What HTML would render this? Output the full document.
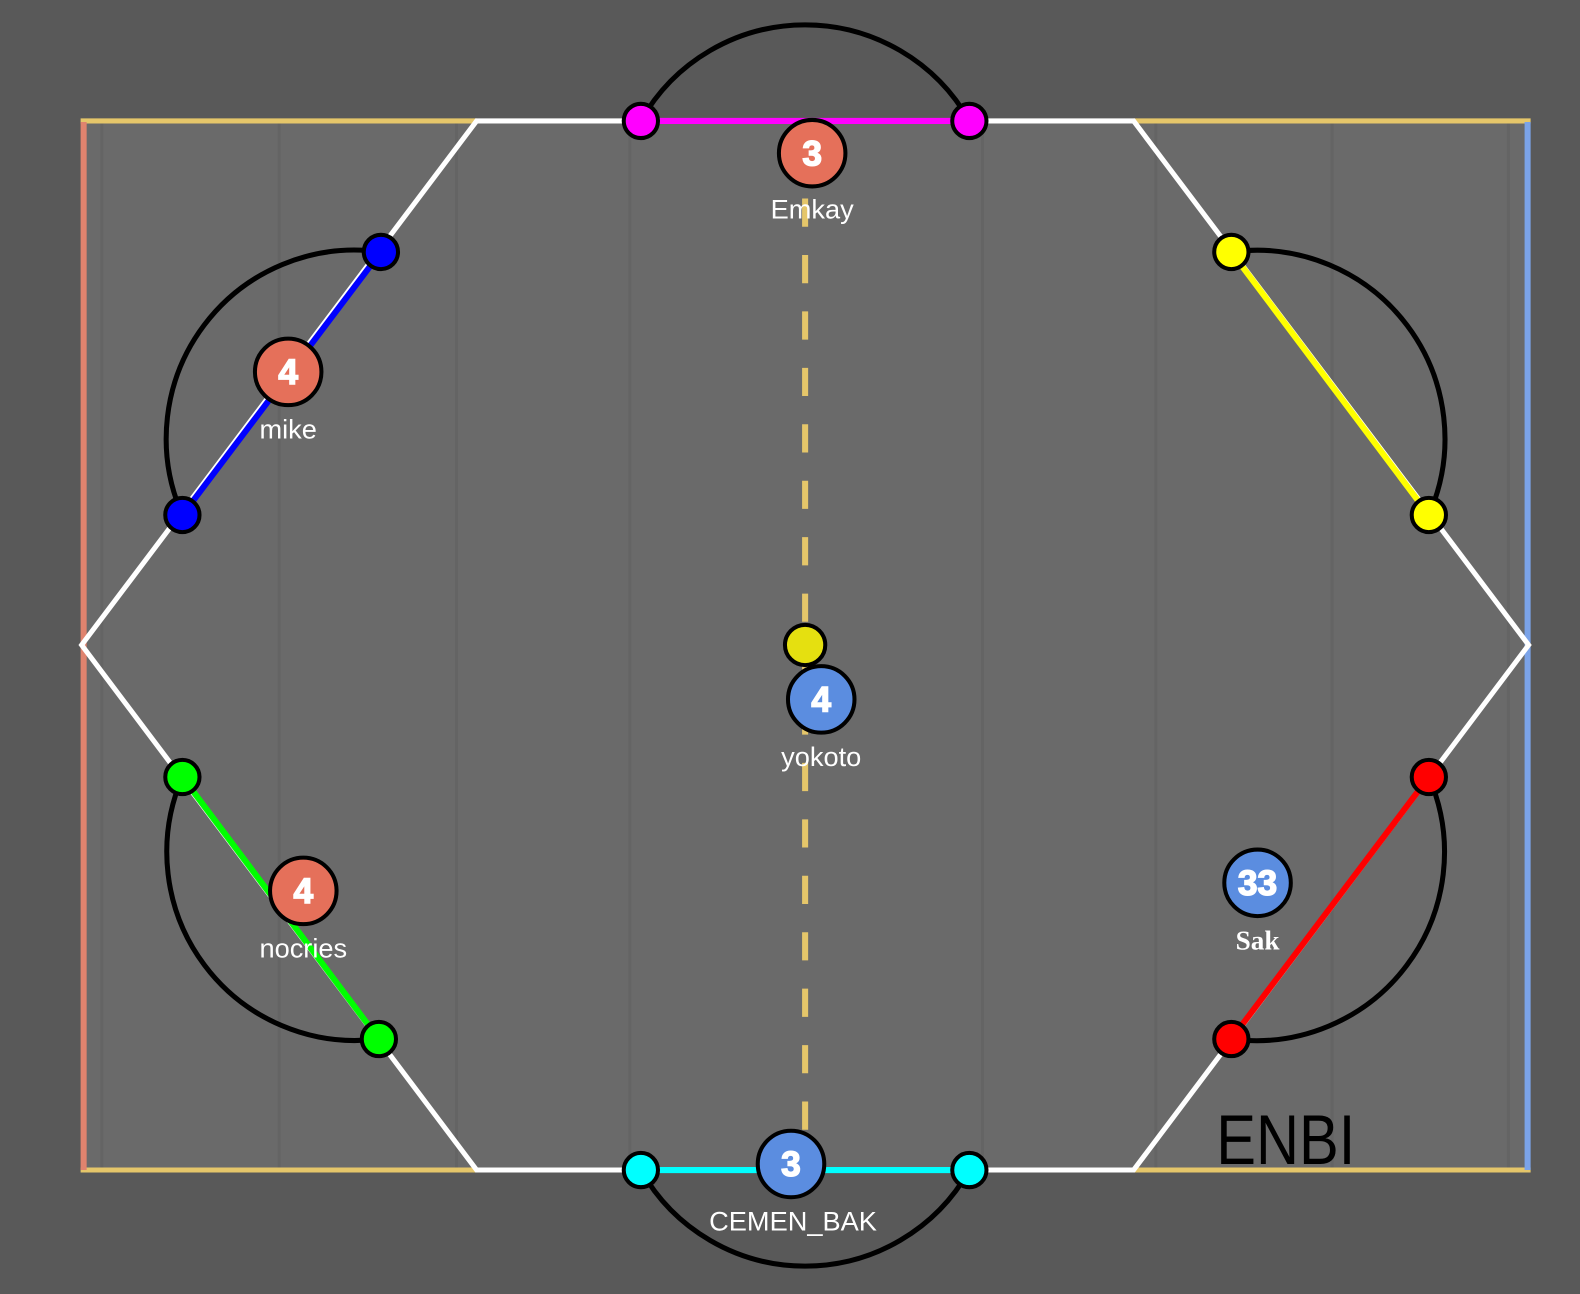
<!DOCTYPE html>
<html><head><meta charset="utf-8"><style>
html,body{margin:0;padding:0;background:#595959;}
svg{display:block;}
</style></head><body>
<svg width="1580" height="1294" viewBox="0 0 1568 1284" preserveAspectRatio="none" xmlns="http://www.w3.org/2000/svg">
<rect width="1568" height="1284" fill="#595959"/>
<rect x="82" y="120" width="1435" height="1041" fill="#6a6a6a"/>
<g stroke="#646464" stroke-width="3">
<line x1="101" y1="122" x2="101" y2="1159"/>
<line x1="277" y1="122" x2="277" y2="1159"/>
<line x1="453" y1="122" x2="453" y2="1159"/>
<line x1="625" y1="122" x2="625" y2="1159"/>
<line x1="975" y1="122" x2="975" y2="1159"/>
<line x1="1147" y1="122" x2="1147" y2="1159"/>
<line x1="1322" y1="122" x2="1322" y2="1159"/>
<line x1="1497" y1="122" x2="1497" y2="1159"/>
</g>
<g stroke="#e5c66a" stroke-width="5">
<line x1="80" y1="120" x2="473" y2="120"/>
<line x1="1125" y1="120" x2="1519" y2="120"/>
<line x1="80" y1="1161" x2="473" y2="1161"/>
<line x1="1125" y1="1161" x2="1519" y2="1161"/>
</g>
<line x1="83" y1="121" x2="83" y2="1161" stroke="#e0836e" stroke-width="6"/>
<line x1="1516" y1="121" x2="1516" y2="1161" stroke="#7ba3e8" stroke-width="6"/>
<line x1="799" y1="185" x2="799" y2="1161" stroke="#e5c66a" stroke-width="6" stroke-dasharray="28 28" stroke-dashoffset="-12"/>
<g stroke="#ffffff" stroke-width="5" fill="none">
<polyline points="636,120 473,120 81,640 473,1161 636,1161"/>
<polyline points="962,120 1125,120 1517,640 1125,1161 962,1161"/>
</g>
<g stroke-width="6" fill="none">
<line x1="636" y1="120" x2="962" y2="120" stroke="#ff00ff"/>
<line x1="636" y1="1161" x2="962" y2="1161" stroke="#00ffff"/>
<line x1="378" y1="250" x2="181" y2="511" stroke="#0000ff"/>
<line x1="181" y1="771" x2="376" y2="1031" stroke="#00ff00"/>
<line x1="1222" y1="250" x2="1418" y2="511" stroke="#ffff00"/>
<line x1="1418" y1="771" x2="1222" y2="1031" stroke="#ff0000"/>
</g>
<g stroke="#000" stroke-width="5" fill="none">
<path d="M636,120 A187,187 0 0 1 962,120"/>
<path d="M962,1161 A187,187 0 0 1 636,1161"/>
<path d="M181,511 A187,187 0 0 1 378,250"/>
<path d="M376,1031 A187,187 0 0 1 181,771"/>
<path d="M1222,250 A187,187 0 0 1 1418,511"/>
<path d="M1418,771 A187,187 0 0 1 1222,1031"/>
</g>
<g stroke="#000" stroke-width="4">
<circle cx="636" cy="120" r="17" fill="#ff00ff"/>
<circle cx="962" cy="120" r="17" fill="#ff00ff"/>
<circle cx="636" cy="1161" r="17" fill="#00ffff"/>
<circle cx="962" cy="1161" r="17" fill="#00ffff"/>
<circle cx="378" cy="250" r="17" fill="#0000ff"/>
<circle cx="181" cy="511" r="17" fill="#0000ff"/>
<circle cx="181" cy="771" r="17" fill="#00ff00"/>
<circle cx="376" cy="1031" r="17" fill="#00ff00"/>
<circle cx="1222" cy="250" r="17" fill="#ffff00"/>
<circle cx="1418" cy="511" r="17" fill="#ffff00"/>
<circle cx="1418" cy="771" r="17" fill="#ff0000"/>
<circle cx="1222" cy="1031" r="17" fill="#ff0000"/>
<circle cx="799" cy="640" r="20" fill="#e5e010"/>
</g>
<g stroke="#000" stroke-width="4">
<circle cx="806" cy="152" r="33" fill="#e5705a"/>
<circle cx="286" cy="369" r="33" fill="#e5705a"/>
<circle cx="301" cy="884" r="33" fill="#e5705a"/>
<circle cx="815" cy="694" r="33" fill="#5b8de0"/>
<circle cx="1248" cy="876" r="33" fill="#5b8de0"/>
<circle cx="785" cy="1155" r="33" fill="#5b8de0"/>
</g>
<g font-family="Liberation Sans, sans-serif" font-weight="bold" font-size="35" fill="#fff" text-anchor="middle" stroke="#fff" stroke-width="1.5">
<text x="806" y="164">3</text>
<text x="286" y="381">4</text>
<text x="301" y="896">4</text>
<text x="815" y="706">4</text>
<text x="1248" y="888">33</text>
<text x="785" y="1167">3</text>
</g>
<g font-family="Liberation Sans, sans-serif" font-size="27" fill="#fff" text-anchor="middle">
<text x="806" y="217">Emkay</text>
<text x="286" y="435">mike</text>
<text x="301" y="950">nocries</text>
<text x="815" y="760">yokoto</text>
<text x="787" y="1221">CEMEN_BAK</text>
</g>
<text x="1248" y="942" font-family="Liberation Serif, serif" font-weight="bold" font-size="27" fill="#fff" text-anchor="middle">Sak</text>
<text x="1207" y="1155" font-family="Liberation Sans, sans-serif" font-size="70" fill="#000" textLength="138" lengthAdjust="spacingAndGlyphs">ENBI</text>
</svg>
</body></html>
